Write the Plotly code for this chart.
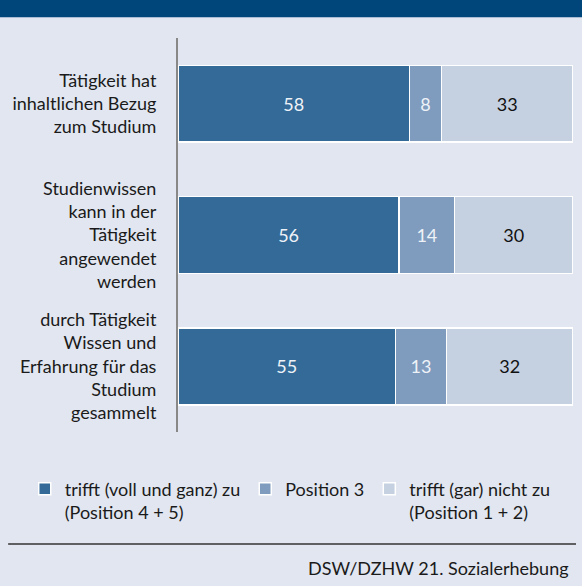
import plotly.graph_objects as go

categories = [
    "Tätigkeit hat<br>inhaltlichen Bezug<br>zum Studium",
    "Studienwissen<br>kann in der<br>Tätigkeit<br>angewendet<br>werden",
    "durch Tätigkeit<br>Wissen und<br>Erfahrung für das<br>Studium<br>gesammelt",
]
series_names = [
    "trifft (voll und ganz) zu<br>(Position 4 + 5)",
    "Position 3",
    "trifft (gar) nicht zu<br>(Position 1 + 2)",
]
val_agree = [58, 56, 55]
val_pos3 = [8, 14, 13]
val_disagree = [33, 30, 32]
source = "DSW/DZHW 21. Sozialerhebung"

colors = ["#336a98", "#7f9cbf", "#c5d0e0"]
text_colors = ["#eef2f7", "#eef2f7", "#111111"]
BG = "#e1e6f0"
FONT = "Lato"

fig = go.Figure()
for name, vals, col, tc in zip(series_names, [val_agree, val_pos3, val_disagree], colors, text_colors):
    fig.add_trace(go.Bar(
        y=categories, x=vals, name=name, orientation="h",
        marker=dict(color=col, line=dict(color="white", width=1.5)),
        text=vals, texttemplate="%{text}", textposition="inside",
        insidetextanchor="middle",
        textfont=dict(color=tc, size=18, family=FONT),
        hoverinfo="skip",
    ))

fig.update_layout(
    barmode="stack", barnorm="percent", bargap=0.415,
    width=582, height=586,
    margin=dict(l=178, r=9, t=38, b=154),
    paper_bgcolor=BG, plot_bgcolor=BG,
    font=dict(family=FONT, size=18, color="#1a1a1a"),
    showlegend=True,
    legend=dict(orientation="h", x=-0.388, xanchor="left", y=-0.098, yanchor="top",
                valign="top",
                font=dict(size=18, family=FONT, color="#1a1a1a"),
                bgcolor="rgba(0,0,0,0)", traceorder="normal", itemclick=False,
                tracegroupgap=0),
    xaxis=dict(range=[0, 100], visible=False, fixedrange=True),
    yaxis=dict(autorange="reversed", showline=True, linecolor="#888888", linewidth=2,
               showgrid=False, ticks="outside", ticklen=16, tickcolor=BG,
               tickfont=dict(size=18, family=FONT, color="#1a1a1a"), fixedrange=True),
)

# header band
fig.add_shape(type="rect", xref="paper", yref="paper", x0=-0.5, x1=1.1, y0=1.0525, y1=1.2,
              fillcolor="#00467b", line=dict(width=0), layer="below")
# separator line
fig.add_shape(type="line", xref="paper", yref="paper", x0=-0.43, x1=1.0076, y0=-0.284, y1=-0.284,
              line=dict(color="#333333", width=1.5))
fig.add_annotation(text=source, xref="paper", yref="paper", x=0.995, y=-0.345,
                   xanchor="right", yanchor="middle", showarrow=False,
                   font=dict(size=18, family=FONT, color="#1a1a1a"))

fig.write_html("out.html", config={"displayModeBar": False},
               post_script="document.body.style.margin='0';document.body.style.overflow='hidden';")
